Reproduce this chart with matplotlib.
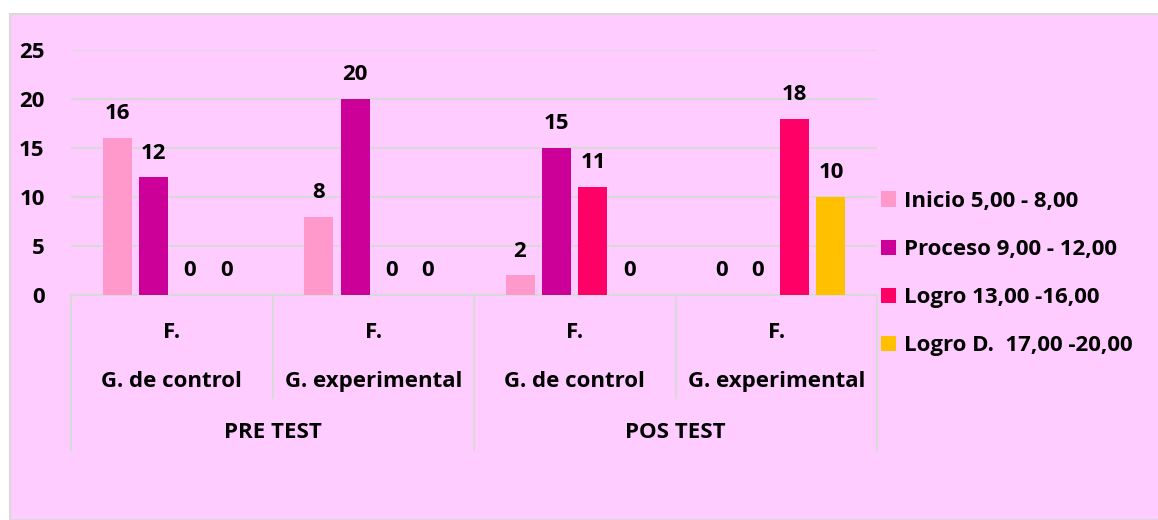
import numpy as np
import matplotlib.pyplot as plt
from matplotlib.patches import Rectangle

plt.rcParams['font.family'] = ['Open Sans', 'DejaVu Sans']
plt.rcParams['font.weight'] = 'bold'

# data
tests = ['PRE TEST', 'POS TEST']
groups = ['G. de control', 'G. experimental', 'G. de control', 'G. experimental']
sub_label = 'F.'
series = ['Inicio 5,00 - 8,00', 'Proceso 9,00 - 12,00', 'Logro 13,00 -16,00', 'Logro D.  17,00 -20,00']
inicio = [16, 8, 2, 0]
proceso = [12, 20, 15, 0]
logro = [0, 0, 11, 18]
logro_d = [0, 0, 0, 10]
values = [inicio, proceso, logro, logro_d]
colors = ['#FF99CC', '#CC0099', '#FF0066', '#FFC000']

bg = '#FFCCFF'
grid_c = '#D9D9D9'
fs = 16

W, H = 1158, 520
fig = plt.figure(figsize=(W / 100, H / 100), dpi=100)
fig.patch.set_facecolor('white')
# chart area background with border
fig.patches.append(Rectangle((10 / W, 0), 1 - 10 / W + 0.01, (H - 14) / H, transform=fig.transFigure,
                             facecolor=bg, edgecolor=grid_c, linewidth=1.5, zorder=-1))

ax = fig.add_axes([71 / W, (H - 295) / H, (877 - 71) / W, 245 / H])
ax.set_facecolor('none')

x = np.arange(len(groups)) + 0.5
step = 0.181
width = 0.144
for i, (vals, c, name) in enumerate(zip(values, colors, series)):
    pos = x + (i - 1.5) * step
    bars = ax.bar(pos, vals, width, color=c, label=name, zorder=3)
    for b, v in zip(bars, vals):
        ax.annotate(str(v), (b.get_x() + b.get_width() / 2, v), xytext=(0, 10),
                    textcoords='offset points', ha='center', va='bottom',
                    fontsize=fs, fontweight='bold', annotation_clip=False)

ax.set_xlim(0, 4)
ax.set_ylim(0, 25)
ax.set_yticks([0, 5, 10, 15, 20, 25])
ax.tick_params(axis='y', length=0, pad=19, labelsize=fs)
ax.set_xticks([])
for s in ax.spines.values():
    s.set_visible(False)
ax.yaxis.grid(True, color=grid_c, linewidth=1.5, zorder=0)
ax.set_axisbelow(True)

# multi-level category axis
tr = ax.get_xaxis_transform()
ax.plot([0, 4], [0, 0], color=grid_c, linewidth=1.5, transform=tr, clip_on=False)
for xv, depth in zip([0, 1, 2, 3, 4], [-0.633, -0.42, -0.633, -0.42, -0.633]):
    ax.plot([xv, xv], [0, depth], color=grid_c, linewidth=1.5, transform=tr, clip_on=False)
for xc, g in zip(x, groups):
    ax.text(xc, -0.155, sub_label, transform=tr, ha='center', va='center', fontsize=fs)
    ax.text(xc, -0.355, g, transform=tr, ha='center', va='center', fontsize=fs)
for k, t in enumerate(tests):
    ax.text(1 + 2 * k, -0.563, t, transform=tr, ha='center', va='center', fontsize=fs)

leg = fig.legend(loc='upper left', bbox_to_anchor=(872 / W, 1 - 182 / H), frameon=False,
                 fontsize=fs, handlelength=0.68, handleheight=0.68, handletextpad=0.35,
                 labelspacing=1.22, borderaxespad=0)

fig.savefig('out.png', dpi=100, facecolor=fig.get_facecolor())
